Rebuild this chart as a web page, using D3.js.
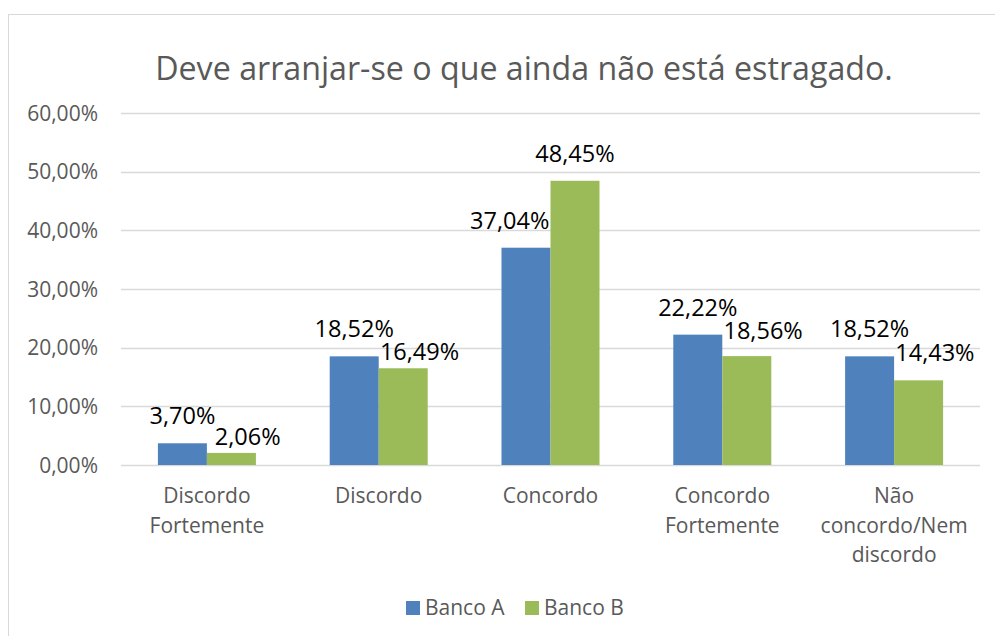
<!DOCTYPE html>
<html><head><meta charset="utf-8">
<script src="https://cdn.jsdelivr.net/npm/d3@7"></script>
<style>body{margin:0;background:#fff}svg{display:block}text{font-family:"Open Sans",sans-serif}</style>
</head><body><svg id="c" width="995" height="636"></svg>
<script>
const title = "Deve arranjar-se o que ainda não está estragado.";
const categories = [["Discordo","Fortemente"],["Discordo"],["Concordo"],["Concordo","Fortemente"],["Não","concordo/Nem","discordo"]];
const seriesNames = ["Banco A","Banco B"];
const bancoA = [3.70, 18.52, 37.04, 22.22, 18.52];
const bancoB = [2.06, 16.49, 48.45, 18.56, 14.43];
const yTicks = [0,10,20,30,40,50,60];
const colors = ["#4F81BD","#9BBB59"];

const svg = d3.select("#c");
svg.append("rect").attr("x",8.5).attr("y",14.5).attr("width",1100).attr("height",800)
  .attr("fill","#fff").attr("stroke","#D9D9D9").attr("stroke-width",1);

const plotL=121, plotR=980, plotT=113, plotB=465;
const y = d3.scaleLinear().domain([0,60]).range([plotB,plotT]);
const catKeys = categories.map(c=>c.join(" "));
const x0 = d3.scaleBand().domain(catKeys).range([plotL,plotR]).paddingInner(0.4296).paddingOuter(0.2148);
const x1 = d3.scaleBand().domain(seriesNames).range([0,x0.bandwidth()]);

// gridlines
svg.append("g").selectAll("line").data(yTicks).join("line")
  .attr("x1",plotL).attr("x2",plotR).attr("y1",d=>Math.round(y(d))+0.5).attr("y2",d=>Math.round(y(d))+0.5)
  .attr("stroke","#D9D9D9").attr("stroke-width",1.3);

// y axis labels
const fmt = d=>d3.format(".2f")(d).replace(".",",")+"%";
svg.append("g").selectAll("text").data(yTicks).join("text")
  .attr("x",98).attr("y",d=>y(d)).attr("dy","0.36em").attr("text-anchor","end")
  .attr("font-size",21).attr("fill","#595959").text(fmt);

// bars
const data = catKeys.map((k,i)=>({k, vals:[bancoA[i],bancoB[i]]}));
const g = svg.append("g").selectAll("g").data(data).join("g").attr("transform",d=>`translate(${x0(d.k)},0)`);
g.selectAll("rect").data(d=>d.vals.map((v,j)=>({s:seriesNames[j],v,j}))).join("rect")
  .attr("x",d=>x1(d.s)).attr("width",x1.bandwidth()).attr("y",d=>y(d.v)).attr("height",d=>plotB-y(d.v))
  .attr("fill",d=>colors[d.j]);
// data labels: the lower label of a pair is nudged outward (and down) when the labels would collide
const gap = 19;
g.each(function(d){
  const grp = d3.select(this);
  const hi = d.vals[0] >= d.vals[1] ? 0 : 1, lo = 1-hi;
  const texts = d.vals.map((v,j)=>grp.append("text")
    .attr("x",x1(seriesNames[j])+x1.bandwidth()/2).attr("y",y(v)-gap).attr("text-anchor","middle")
    .attr("font-size",23.5).attr("fill","#000").text(fmt(v)));
  const w = texts.map(t=>t.node().getComputedTextLength());
  const bw = x1.bandwidth();
  if ((w[0]+w[1])/2 > bw) {
    const dir = lo===1 ? 1 : -1;
    const shift = bw/3;
    texts[lo].attr("x", +texts[lo].attr("x") + dir*shift);
    if ((w[0]+w[1])/2 > bw + shift) {
      const hiBase = y(d.vals[hi]) - gap;
      const want = Math.min(Math.max(y(d.vals[lo]) - gap, hiBase + 23), y(d.vals[lo]) - 8);
      texts[lo].attr("y", want);
    }
  }
});

// x labels
const xl = svg.append("g").selectAll("text").data(categories).join("text")
  .attr("text-anchor","middle").attr("font-size",21).attr("fill","#595959")
  .attr("transform",(d,i)=>`translate(${x0(catKeys[i])+x0.bandwidth()/2},503)`);
xl.selectAll("tspan").data(d=>d).join("tspan").attr("x",0).attr("y",(d,i)=>i*29.5).text(d=>d);

// title
svg.append("text").attr("x",524).attr("y",80).attr("text-anchor","middle")
  .attr("font-size",32.2).attr("fill","#595959").text(title);

// legend
const lg = svg.append("g");
const legX=[406,525];
seriesNames.forEach((s,i)=>{
  lg.append("rect").attr("x",legX[i]).attr("y",601).attr("width",14).attr("height",14).attr("fill",colors[i]);
  lg.append("text").attr("x",legX[i]+19).attr("y",615).attr("font-size",21).attr("fill","#595959").text(s);
});
</script></body></html>
